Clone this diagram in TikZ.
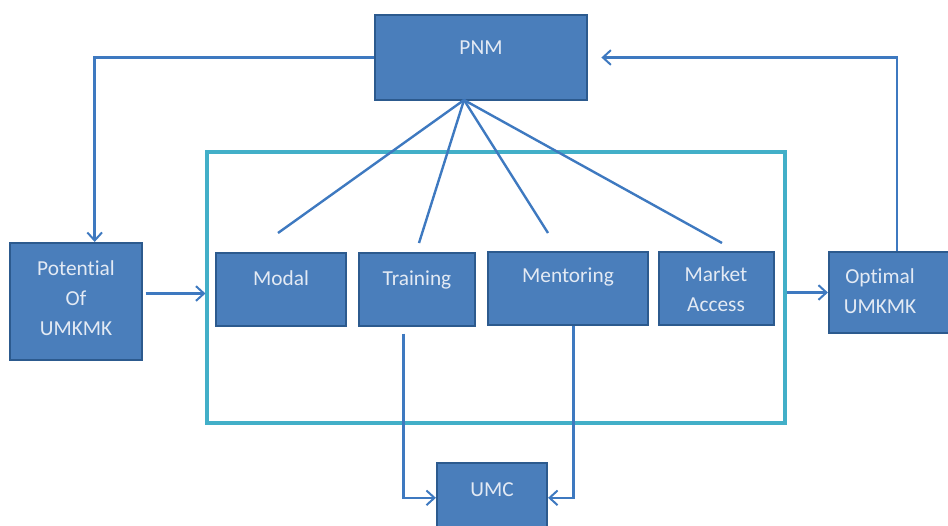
\documentclass[tikz,border=0pt]{standalone}
\usepackage{fontspec}
\setmainfont[Ligatures={NoCommon,NoContextual}]{Carlito}
\usepackage{tikz}
\usetikzlibrary{positioning,fit,arrows.meta,calc}

\definecolor{boxfill}{HTML}{4A7EBB}
\definecolor{boxline}{HTML}{2C5A8E}
\definecolor{linkblue}{HTML}{3E79C0}
\definecolor{framecyan}{HTML}{42AFC8}
\definecolor{boxtext}{HTML}{E3EAF4}

\tikzset{
  box/.style={draw=boxline, fill=boxfill, line width=1.6pt, rectangle, inner sep=0pt},
  boxlabel/.style={text=boxtext, font=\fontsize{16}{22.5}\selectfont, align=center, inner sep=0pt},
  link/.style={draw=linkblue, line width=1.8pt},
  tip/.style={-{Straight Barb[length=6pt,width=11pt,line width=1.5pt]}}
}

\begin{document}
\begin{tikzpicture}[x=0.75pt,y=-0.75pt]
  \useasboundingbox (0,0) rectangle (948,525);

  % frame round the four measures
  \node[draw=framecyan, line width=2.3pt, inner sep=0pt, fit={(207,152) (785,423)}] (frame) {};

  % boxes
  \node[box, fit={(375,15) (587,100)}] (pnm) {};
  \node[box, fit={(10,243) (142,360)}] (pot) {};
  \node[box, fit={(216,253) (346,326)}] (modal) {};
  \node[box, fit={(359,253) (475,326)}] (train) {};
  \node[box, fit={(488,252) (648,325)}] (mentor) {};
  \node[box, fit={(659,252) (774,325)}] (market) {};
  \node[box, fit={(829,252) (952,333)}] (opt) {};
  \node[box, fit={(437,463) (547,530)}] (umc) {};

  % texts
  \node[boxlabel] (pnmtxt) at (481,48) {PNM};
  \node[boxlabel] (pottxt) at (76,298) {Potent{}ial\\Of\\UMKMK};
  \node[boxlabel] (modaltxt) at (281,278) {Modal};
  \node[boxlabel] (traintxt) at (417,280) {Training};
  \node[boxlabel] (mentortxt) at (568,277) {Mentoring};
  \node[boxlabel] (markettxt) at (716,289) {Market\\Access};
  \node[boxlabel] (opttxt) at (880,291) {Opt{}imal\\UMKMK};
  \node[boxlabel] (umctxt) at (492,490) {UMC};

  % fan from PNM
  \coordinate (fan) at (464,100);
  \coordinate (toModal) at (278,233);
  \coordinate (toTrain) at (419,243);
  \coordinate (toMentor) at (548,233);
  \coordinate (toMarket) at (722,243);
  \foreach \e in {toModal,toTrain,toMentor,toMarket}
    \draw[link] (fan) -- (\e);

  % loops
  \draw[link,tip] (pnm.west) -| ([xshift=14pt]pot.north);
  \draw[link,tip] ([xshift=5pt]opt.north) |- ([xshift=10pt]pnm.east);
  \coordinate (potout) at ([xshift=2pt,yshift=6pt]pot.east);
  \draw[link,tip] (potout) -- (frame.west |- potout);
  \draw[link,tip] (frame.east |- opt.west) -- (opt.west);

  % down to UMC
  \draw[link,tip] ([xshift=-10pt,yshift=-5pt]train.south) |- ([yshift=-1pt]umc.west);
  \draw[link,tip] ([xshift=4pt]mentor.south) |- ([yshift=-1pt]umc.east);
\end{tikzpicture}
\end{document}
